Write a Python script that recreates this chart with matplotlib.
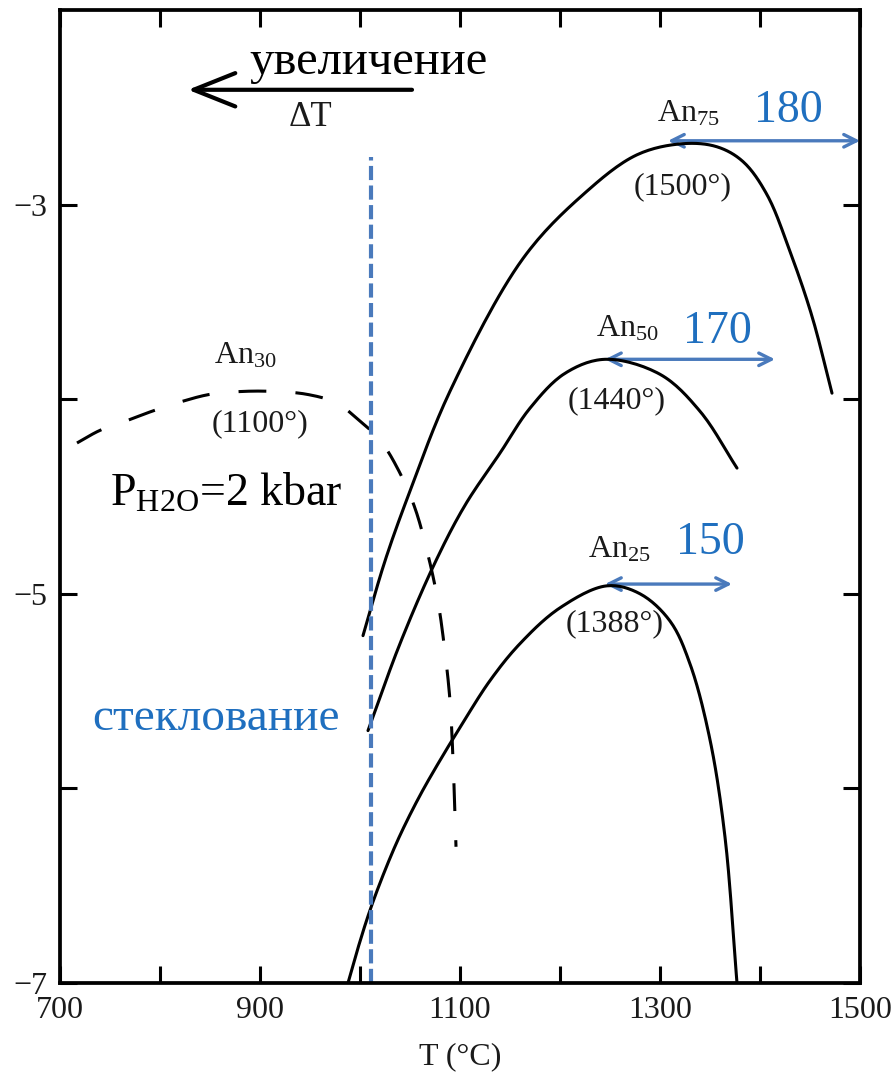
import numpy as np
import matplotlib
matplotlib.use("Agg")
import matplotlib.pyplot as plt
from matplotlib.patches import FancyArrowPatch, ArrowStyle

plt.rcParams['font.family'] = ['Liberation Serif', 'DejaVu Serif']
plt.rcParams['mathtext.fontset'] = 'custom'
plt.rcParams['mathtext.rm'] = 'Liberation Serif'
plt.rcParams['mathtext.it'] = 'Liberation Serif:italic'

# growth-rate curves: temperature (°C) vs log rate
an75_t = [1003, 1025, 1050, 1090, 1163, 1223, 1277, 1323, 1357, 1383, 1407, 1430,
          1452, 1472]
an75_y = [-5.215, -4.831, -4.472, -3.959, -3.277, -2.949, -2.744, -2.687, -2.703,
          -2.779, -2.949, -3.241, -3.574, -3.969]

an50_t = [1008, 1040, 1075, 1105, 1140, 1170, 1205, 1245, 1300, 1340, 1377]
an50_y = [-5.703, -5.256, -4.84, -4.545, -4.277, -4.046, -3.867, -3.795, -3.872,
          -4.062, -4.354]

an25_t = [988, 998, 1010, 1025, 1040, 1060, 1080, 1100, 1130, 1160, 1200, 1247,
          1280, 1310, 1330, 1350, 1365, 1377]
an25_y = [-7.0, -6.82, -6.626, -6.421, -6.241, -6.036, -5.856, -5.687, -5.446,
          -5.256, -5.072, -4.959, -5.0, -5.14, -5.36, -5.75, -6.25, -7.0]

an30_t = [717, 740, 767, 793, 823, 850, 883, 913, 947, 977, 997, 1020, 1040, 1055,
          1068, 1078, 1085, 1090, 1093, 1096]
an30_y = [-4.225, -4.16, -4.11, -4.06, -4.01, -3.975, -3.96, -3.96, -3.975, -4.02,
          -4.10, -4.21, -4.38, -4.56, -4.80, -5.04, -5.30, -5.55, -5.85, -6.3]

# glass transition temperature
t_glass = 1011

# undercooling spans (from, to, label)
span_an75 = (1308, 1500, "180")
span_an50 = (1245, 1415, "170")
span_an25 = (1245, 1372, "150")

x_ticks = [700, 800, 900, 1000, 1100, 1200, 1300, 1400, 1500]
x_labels = ["700", "", "900", "", "1100", "", "1300", "", "1500"]
y_ticks = [-7, -6, -5, -4, -3]
y_labels = ["\u22127", "", "\u22125", "", "\u22123"]

INK = "#1a1a1a"
BLUE_TXT = "#1f6fbf"
BLUE_LN = "#4a7abc"


def smooth(ax, xs, ys, n=16):
    """Centripetal Catmull-Rom path through the points, built in display space."""
    pts = ax.transData.transform(np.column_stack([xs, ys]))
    p = np.vstack([2 * pts[0] - pts[1], pts, 2 * pts[-1] - pts[-2]])
    out = []
    for i in range(1, len(p) - 2):
        p0, p1, p2, p3 = p[i - 1], p[i], p[i + 1], p[i + 2]
        t0 = 0.0
        t1 = t0 + np.linalg.norm(p1 - p0) ** 0.5
        t2 = t1 + np.linalg.norm(p2 - p1) ** 0.5
        t3 = t2 + np.linalg.norm(p3 - p2) ** 0.5
        t = np.linspace(t1, t2, n, endpoint=False)[:, None]
        a1 = (t1 - t) / (t1 - t0) * p0 + (t - t0) / (t1 - t0) * p1
        a2 = (t2 - t) / (t2 - t1) * p1 + (t - t1) / (t2 - t1) * p2
        a3 = (t3 - t) / (t3 - t2) * p2 + (t - t2) / (t3 - t2) * p3
        b1 = (t2 - t) / (t2 - t0) * a1 + (t - t0) / (t2 - t0) * a2
        b2 = (t3 - t) / (t3 - t1) * a2 + (t - t1) / (t3 - t1) * a3
        out.append((t2 - t) / (t2 - t1) * b1 + (t - t1) / (t2 - t1) * b2)
    out.append(pts[-1:])
    d = ax.transData.inverted().transform(np.vstack(out))
    return d[:, 0], d[:, 1]


fig = plt.figure(figsize=(8.95, 10.76), dpi=100)
ax = fig.add_axes([60 / 895, 93 / 1076, 800 / 895, 973 / 1076])
ax.set_xlim(700, 1500)
ax.set_ylim(-7, -2.0)

lw = 2.2
for tt, yy in [(an75_t, an75_y), (an50_t, an50_y), (an25_t, an25_y)]:
    sx, sy = smooth(ax, tt, yy)
    ax.plot(sx, sy, color="black", lw=lw, solid_capstyle="round")
sx, sy = smooth(ax, an30_t, an30_y)
dash_line, = ax.plot(sx, sy, color="black", lw=lw)
dash_line.set_dashes((20 / lw, 21 / lw))

# glass transition line
gl, = ax.plot([t_glass, t_glass], [-7, -2.754], color=BLUE_LN, lw=3.0)
gl.set_dashes((3.4, 1.3))

# undercooling arrows
blue_head = ArrowStyle("<->", head_length=9, head_width=4.5)
for (t0, t1, lab), yv, tx, ty in [
    (span_an75, -2.672, 1428, -2.574),
    (span_an50, -3.795, 1357, -3.713),
    (span_an25, -4.95, 1350, -4.795),
]:
    ax.add_patch(FancyArrowPatch((t0, yv), (t1, yv), arrowstyle=blue_head,
                                 mutation_scale=1, color=BLUE_LN, lw=2.4,
                                 shrinkA=0, shrinkB=0, clip_on=False))
    ax.text(tx, ty, lab, color=BLUE_TXT, fontsize=33, ha="center", va="baseline")

# direction of increasing undercooling
ax.add_patch(FancyArrowPatch((1052, -2.41), (828, -2.41),
                             arrowstyle=ArrowStyle("->", head_length=30, head_width=12),
                             mutation_scale=1, color="black", lw=3.0,
                             shrinkA=0, shrinkB=0))
ax.text(1008, -2.33, "увеличение", fontsize=35, color="black", ha="center", va="baseline")
ax.text(950, -2.554, "ΔT", fontsize=25, color=INK, ha="center", va="center")

# composition and liquidus labels
lab_kw = dict(color=INK, ha="center", va="baseline", fontsize=23)
ax.text(1328, -2.574, "An$_{75}$", **lab_kw)
ax.text(1323, -2.908, "(1500°)", color=INK, ha="center", va="center", fontsize=23)
ax.text(1267, -3.677, "An$_{50}$", **lab_kw)
ax.text(1257, -4.01, "(1440°)", color=INK, ha="center", va="center", fontsize=23)
ax.text(1259, -4.815, "An$_{25}$", **lab_kw)
ax.text(1255, -5.154, "(1388°)", color=INK, ha="center", va="center", fontsize=23)
ax.text(885, -3.815, "An$_{30}$", **lab_kw)
ax.text(900, -4.128, "(1100°)", color=INK, ha="center", va="center", fontsize=23)

ax.text(750, -4.549, "P$_{\\mathrm{H2O}}$=2 kbar", fontsize=33, color="black",
        ha="left", va="baseline")
ax.text(732, -5.70, "стеклование", fontsize=34, color=BLUE_TXT,
        ha="left", va="baseline")

# axes styling
for s in ax.spines.values():
    s.set_linewidth(2.7)
ax.set_xticks(x_ticks)
ax.set_xticklabels(x_labels)
ax.set_yticks(y_ticks)
ax.set_yticklabels(y_labels)
ax.tick_params(direction="in", length=12, width=2.2, top=True, right=True,
               labelsize=23, labelcolor=INK, pad=9)
ax.set_xlabel("T (°C)", fontsize=23, color=INK, labelpad=13)

fig.savefig("out.png", dpi=100)
